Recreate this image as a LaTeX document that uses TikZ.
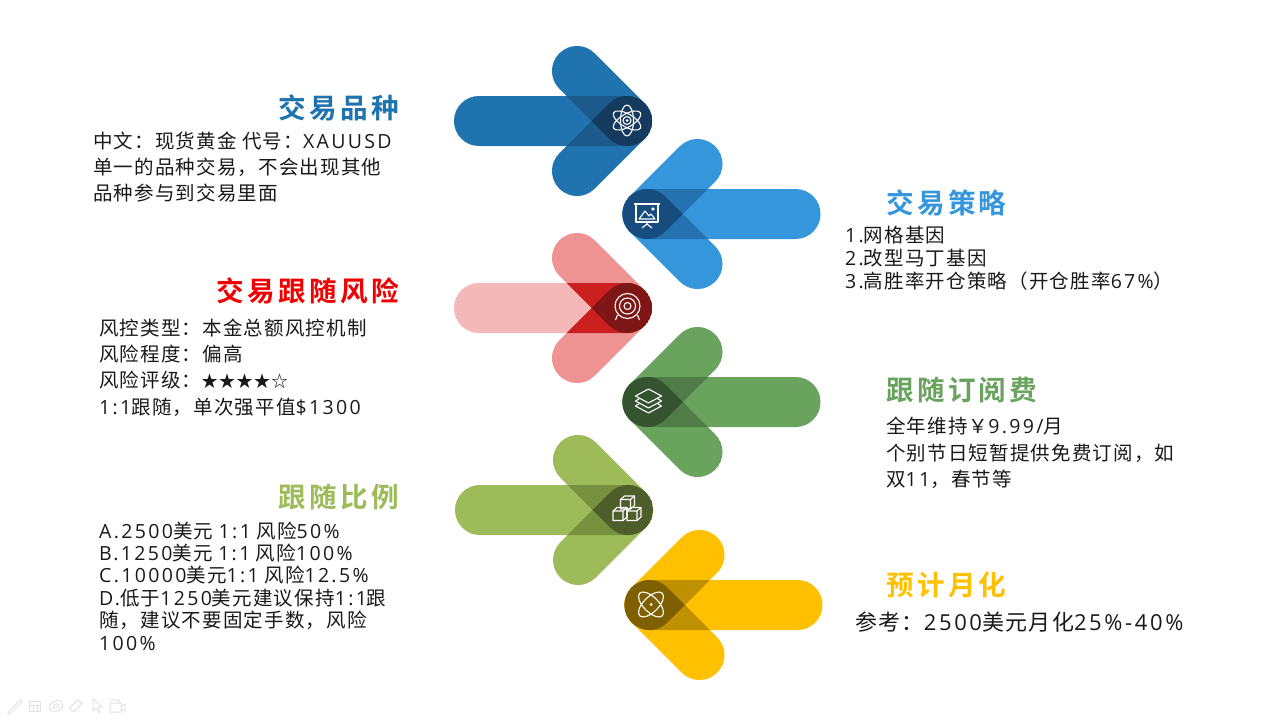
\documentclass[tikz,border=0pt]{standalone}
\usepackage{fontspec}
\newfontfamily\bodyfont[LetterSpace=6]{Noto Sans CJK SC}
\newfontfamily\titlefont[LetterSpace=12]{Noto Sans CJK SC Bold}
\newfontfamily\latinfont[LetterSpace=12]{Open Sans}
\newcommand{\la}[1]{{\latinfont #1}}
\definecolor{sideA}{HTML}{1F74B0}\definecolor{midA}{HTML}{1F74B0}\definecolor{dblA}{HTML}{1C5A8C}\definecolor{triA}{HTML}{143A5E}
\definecolor{sideB}{HTML}{3596DC}\definecolor{midB}{HTML}{3596DC}\definecolor{dblB}{HTML}{2473B0}\definecolor{triB}{HTML}{174C7E}
\definecolor{sideC}{HTML}{EE9292}\definecolor{midC}{HTML}{F5B8B8}\definecolor{dblC}{HTML}{CC2020}\definecolor{triC}{HTML}{7F1616}
\definecolor{sideD}{HTML}{6AA35E}\definecolor{midD}{HTML}{6AA35E}\definecolor{dblD}{HTML}{4F7C47}\definecolor{triD}{HTML}{34532F}
\definecolor{sideE}{HTML}{9DBB59}\definecolor{midE}{HTML}{9DBB59}\definecolor{dblE}{HTML}{78913F}\definecolor{triE}{HTML}{4E5E2A}
\definecolor{sideF}{HTML}{FFC000}\definecolor{midF}{HTML}{FFC000}\definecolor{dblF}{HTML}{BF9000}\definecolor{triF}{HTML}{7F6000}
\definecolor{redtitle}{HTML}{F00000}
\definecolor{toolgray}{HTML}{E2E2E2}
\def\longbar{(-25,-25) rectangle (173,25)}
\def\shortbar{(-25,-25) rectangle (95.7,25)}
\tikzset{
	pill/.style={rounded corners=24.9pt},
	icon/.style={draw=white,line width=1.1pt,line join=round,fill=none},
	tooltip/.style={draw=toolgray,line width=1pt},
	headline/.style={font=\titlefont\fontsize{27.6}{30}\selectfont,inner sep=0pt},
	bodytext/.style={font=\bodyfont\fontsize{19.5}{#1}\selectfont,align=left,anchor=west,inner sep=0pt,text=black!90}
}
\begin{document}
\begin{tikzpicture}[x=1pt,y=-1pt]
	\useasboundingbox (0,0) rectangle (1280,720);
	
	%ARROWS
	\foreach \px/\py/\dir/\c in {627/121/180/A,647.5/214/0/B,627/308/180/C,647.5/402/0/D,628/510/180/E,649.5/605/0/F}{
		\begin{scope}[shift={(\px,\py)}]
			\pgfmathsetmacro{\up}{\dir-45}
			\pgfmathsetmacro{\dn}{\dir+45}
			\fill[side\c,pill,rotate=\up] \shortbar;
			\fill[side\c,pill,rotate=\dn] \shortbar;
			\fill[mid\c,pill,rotate=\dir] \longbar;
			\begin{scope}
				\clip[pill,rotate=\dir] \longbar;
				\fill[dbl\c,pill,rotate=\up] \shortbar;
				\fill[dbl\c,pill,rotate=\dn] \shortbar;
			\end{scope}
			\begin{scope}
				\clip[pill,rotate=\up] \shortbar;
				\fill[tri\c,pill,rotate=\dn] \shortbar;
			\end{scope}
		\end{scope}
	}
	
	%ICONS
	\begin{scope}[shift={(627,120.5)}]
		\foreach \a in {30,90,150}
			\draw[icon,rotate=\a] (0,0) ellipse (15.5 and 6.5);
		\draw[icon] (0,0) circle (4);
		\fill[white] (0,0) circle (1.5);
	\end{scope}
	\begin{scope}[shift={(647,215)}]
		\draw[icon] (-13,-11) -- (13,-11);
		\draw[icon] (-11,-11) rectangle (11,7);
		\draw[icon] (-8,4) -- (-2,-4) -- (2,1) -- (4,-1) -- (8,4) -- cycle;
		\draw[icon] (6,-6) circle (1.2);
		\draw[icon] (0,7) -- (0,9) (-5,13) -- (0,9) -- (5,13);
	\end{scope}
	\begin{scope}[shift={(627.5,306)}]
		\draw[icon] (0,0) circle (12.5);
		\draw[icon] (0,0) circle (8);
		\draw[icon] (0,0) circle (3.5);
		\draw[icon] (-10,9) -- (-12,14) (10,9) -- (12,14);
	\end{scope}
	\begin{scope}[shift={(648.5,402)}]
		\draw[icon] (-13,-6) -- (0,-13) -- (13,-6) -- (0,1) -- cycle;
		\draw[icon] (-9,-3.5) -- (-13,-1) -- (0,6) -- (13,-1) -- (9,-3.5);
		\draw[icon] (-9,1.5) -- (-13,4) -- (0,11) -- (13,4) -- (9,1.5);
	\end{scope}
	\begin{scope}[shift={(627,508)}]
		\foreach \bx/\by in {0.5/-5.5,-7/6,7/6}{
			\draw[icon] (\bx-7,\by-3) -- (\bx-3,\by-6.5) -- (\bx+7,\by-6.5) -- (\bx+7,\by+3) -- (\bx+3,\by+6.5) -- (\bx-7,\by+6.5) -- cycle;
			\draw[icon] (\bx-7,\by-3) -- (\bx+3,\by-3) -- (\bx+3,\by+6.5) (\bx+3,\by-3) -- (\bx+7,\by-6.5);
		}
	\end{scope}
	\begin{scope}[shift={(651,604.5)}]
		\draw[icon,rotate=45] (0,0) ellipse (16 and 7.5);
		\draw[icon,rotate=-45] (0,0) ellipse (16 and 7.5);
		\fill[white] (0,0) circle (1.5);
	\end{scope}
	
	%TITLES
	\node[headline,text=sideA,anchor=east] (titleA) at (399,108) {交易品种};
	\node[headline,text=redtitle,anchor=east] (titleC) at (399,291) {交易跟随风险};
	\node[headline,text=sideE,anchor=east] (titleE) at (399,497) {跟随比例};
	\node[headline,text=sideB,anchor=west] (titleB) at (886,203) {交易策略};
	\node[headline,text=sideD,anchor=west] (titleD) at (886,390) {跟随订阅费};
	\node[headline,text=sideF,anchor=west] (titleF) at (886,585) {预计月化};
	
	%BODY TEXT
	\node[bodytext=26] (textA) at (93,167) {%
		中文：现货黄金 代号：\la{XAUUSD}\\
		单一的品种交易，不会出现其他\\
		品种参与到交易里面
	};
	\node[bodytext=26.3] (textC) at (99,367.5) {%
		风控类型：本金总额风控机制\\
		风险程度：偏高\\
		风险评级：{\fontsize{16.5}{26.3}\selectfont ★★★★☆}\\
		\la{1:1}跟随，单次强平值\la{\$1300}
	};
	\node[bodytext=22.4] (textE) at (99,586) {%
		\la{A.2500}美元 \la{1:1} 风险\la{50\%}\\
		\la{B.1250}美元 \la{1:1} 风险\la{100\%}\\
		\la{C.10000}美元\la{1:1} 风险\la{12.5\%}\\
		\la{D.}低于\la{1250}美元建议保持\la{1:1}跟\\
		随，建议不要固定手数，风险\\
		\la{100\%}
	};
	\node[bodytext=23] (textB) at (845,258) {%
		\la{1.}网格基因\\
		\la{2.}改型马丁基因\\
		\la{3.}高胜率开仓策略（开仓胜率\la{67\%}）
	};
	\node[bodytext=26.5] (textD) at (886,453) {%
		全年维持￥\la{9.99/}月\\
		个别节日短暂提供免费订阅，如\\
		双\la{11}，春节等
	};
	\node[bodytext=26,font=\bodyfont\fontsize{22}{26}\selectfont] (textF) at (855,622) {参考：\la{2500}美元月化\la{25\%-40\%}};
	
	%TOOLBAR
	\draw[tooltip] (9,711) -- (20,700) -- (22,702) -- (11,713) -- (8,714) -- cycle;
	\draw[tooltip] (29,701) rectangle (40,711) (29,705) -- (40,705) (33,705) -- (33,711) (37,705) -- (37,711);
	\draw[tooltip,rotate around={25:(56,706)}] (56,706) ellipse (7 and 5) (56,706) ellipse (3 and 2);
	\draw[tooltip] (70,708) -- (77,700) -- (82,703) -- (75,711) -- (72,712) -- cycle;
	\draw[tooltip] (93,699) -- (93,711) -- (96,708) -- (99,713) -- (100,712) -- (98,707) -- (102,707) -- cycle;
	\draw[tooltip] (110,703) rectangle (121,712) (110,700) -- (119,700) -- (119,703) (121,706) -- (125,704) -- (125,711) -- (121,709);
\end{tikzpicture}
\end{document}
